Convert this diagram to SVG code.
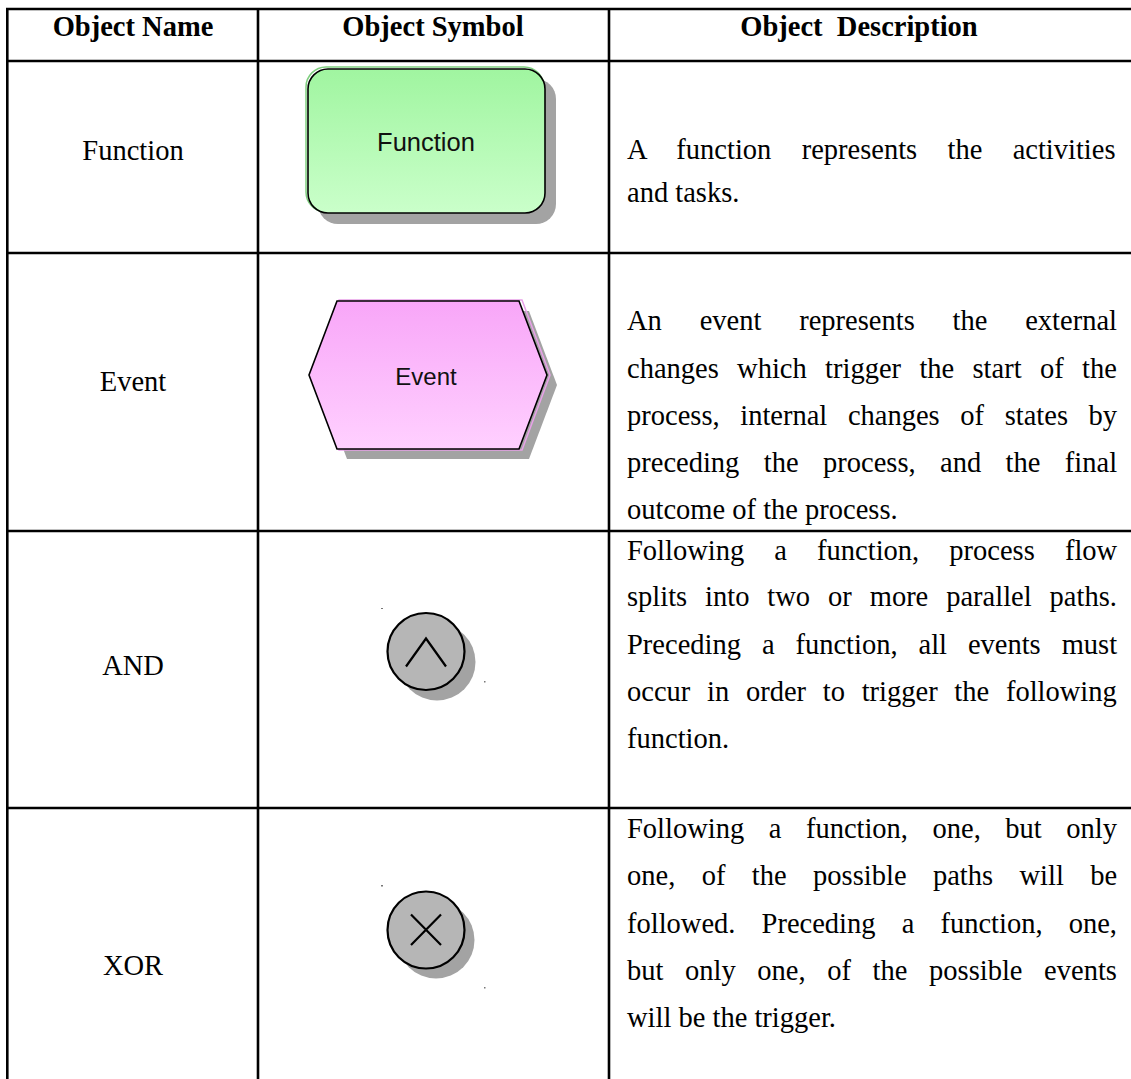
<svg xmlns="http://www.w3.org/2000/svg" width="1131" height="1079" viewBox="0 0 1131 1079">
  <defs>
    <linearGradient id="gFunc" x1="0" y1="0" x2="0" y2="1">
      <stop offset="0" stop-color="#a0f5a0"/>
      <stop offset="1" stop-color="#caffca"/>
    </linearGradient>
    <linearGradient id="gEvent" x1="0" y1="0" x2="0" y2="1">
      <stop offset="0" stop-color="#f8a6f8"/>
      <stop offset="1" stop-color="#ffd0ff"/>
    </linearGradient>
    <style>
      .grid { stroke: #000; stroke-width: 2.6; fill: none; }
      .hdr { font-family: "Liberation Serif", "Times New Roman", serif; font-weight: bold; font-size: 28.5px; fill: #000; }
      .name { font-family: "Liberation Serif", "Times New Roman", serif; font-size: 28.5px; fill: #000; text-anchor: middle; }
      .desc { font-family: "Liberation Serif", "Times New Roman", serif; font-size: 28.5px; fill: #000; }
      .sym { font-family: "Liberation Sans", Arial, sans-serif; font-size: 24px; fill: #111; text-anchor: middle; }
      .shadow { fill: #a3a3a3; }
      .outline { stroke: #000; stroke-width: 1.6; }
      .conn { fill: #b6b6b6; stroke: #000; stroke-width: 2.2; }
      .glyph { fill: none; stroke: #000; stroke-width: 2.2; }
      .handle { fill: #777; }
    </style>
  </defs>

  <rect width="1131" height="1079" fill="#fff"/>

  <!-- table rules -->
  <g id="table-grid" class="grid">
    <line x1="6" y1="9" x2="1131" y2="9"/>
    <line x1="6" y1="61" x2="1131" y2="61"/>
    <line x1="6" y1="253" x2="1131" y2="253"/>
    <line x1="6" y1="531" x2="1131" y2="531"/>
    <line x1="6" y1="808" x2="1131" y2="808"/>
    <line x1="7.3" y1="8" x2="7.3" y2="1079"/>
    <line x1="258" y1="8" x2="258" y2="1079"/>
    <line x1="609" y1="8" x2="609" y2="1079"/>
  </g>

  <!-- header row -->
  <g id="header">
    <text class="hdr" x="133" y="36" text-anchor="middle">Object Name</text>
    <text class="hdr" x="433" y="36" text-anchor="middle">Object Symbol</text>
    <text class="hdr" x="859" y="36" text-anchor="middle" xml:space="preserve">Object  Description</text>
  </g>

  <!-- row: Function -->
  <g id="row-function">
    <text class="name" x="133" y="160">Function</text>
    <g id="symbol-function">
      <rect class="shadow" x="318" y="79" width="238" height="145" rx="20"/>
      <rect x="306" y="67" width="238" height="145" rx="20" fill="none" stroke="#7fcf7f" stroke-width="1.5"/>
      <rect class="outline" x="308" y="69" width="237" height="144" rx="20" fill="url(#gFunc)"/>
      <text class="sym" x="426" y="151" style="font-size:25.5px">Function</text>
    </g>
    <text class="desc" x="627" y="159" word-spacing="23.2">A function represents the activities</text>
    <text class="desc" x="627" y="202">and tasks.</text>
  </g>

  <!-- row: Event -->
  <g id="row-event">
    <text class="name" x="133" y="391">Event</text>
    <g id="symbol-event">
      <polygon class="shadow" points="347,311 529,311 557,385 529,459 347,459 319,385"/>
      <polygon points="339,300 522,300 550,375 522,450 339,450 311,375" fill="none" stroke="#e8a0e8" stroke-width="1.5"/>
      <polygon class="outline" points="337,301 519,301 547,375 519,449 337,449 309,375" fill="url(#gEvent)"/>
      <text class="sym" x="426" y="385">Event</text>
    </g>
    <text class="desc" x="627" y="330" word-spacing="30.7">An event represents the external</text>
    <text class="desc" x="627" y="378" word-spacing="11.2">changes which trigger the start of the</text>
    <text class="desc" x="627" y="425" word-spacing="13.5">process, internal changes of states by</text>
    <text class="desc" x="627" y="472" word-spacing="17.3">preceding the process, and the final</text>
    <text class="desc" x="627" y="519">outcome of the process.</text>
  </g>

  <!-- row: AND -->
  <g id="row-and">
    <text class="name" x="133" y="675">AND</text>
    <g id="symbol-and">
      <rect class="handle" x="381" y="608" width="2" height="1"/>
      <rect class="handle" x="484" y="681" width="1.5" height="1.5"/>
      <circle class="shadow" cx="437" cy="662" r="38.5"/>
      <circle class="conn" cx="426" cy="651.5" r="38.5"/>
      <polyline class="glyph" points="406,666.5 426,638.5 446,666.5"/>
    </g>
    <text class="desc" x="627" y="560" word-spacing="23">Following a function, process flow</text>
    <text class="desc" x="627" y="606" word-spacing="10.8">splits into two or more parallel paths.</text>
    <text class="desc" x="627" y="654" word-spacing="13.8">Preceding a function, all events must</text>
    <text class="desc" x="627" y="701" word-spacing="9.6">occur in order to trigger the following</text>
    <text class="desc" x="627" y="748">function.</text>
  </g>

  <!-- row: XOR -->
  <g id="row-xor">
    <text class="name" x="133" y="975">XOR</text>
    <g id="symbol-xor">
      <rect class="handle" x="381" y="885" width="2" height="1.5"/>
      <rect class="handle" x="484" y="987" width="1.5" height="1.5"/>
      <circle class="shadow" cx="436" cy="940" r="38.5"/>
      <circle class="conn" cx="426" cy="930" r="38.5"/>
      <path class="glyph" d="M411,914.5 L441,945 M441,914.5 L411,945"/>
    </g>
    <text class="desc" x="627" y="838" word-spacing="17.4">Following a function, one, but only</text>
    <text class="desc" x="627" y="885" word-spacing="19.3">one, of the possible paths will be</text>
    <text class="desc" x="627" y="933" word-spacing="19">followed. Preceding a function, one,</text>
    <text class="desc" x="627" y="980" word-spacing="14.5">but only one, of the possible events</text>
    <text class="desc" x="627" y="1027">will be the trigger.</text>
  </g>
</svg>
